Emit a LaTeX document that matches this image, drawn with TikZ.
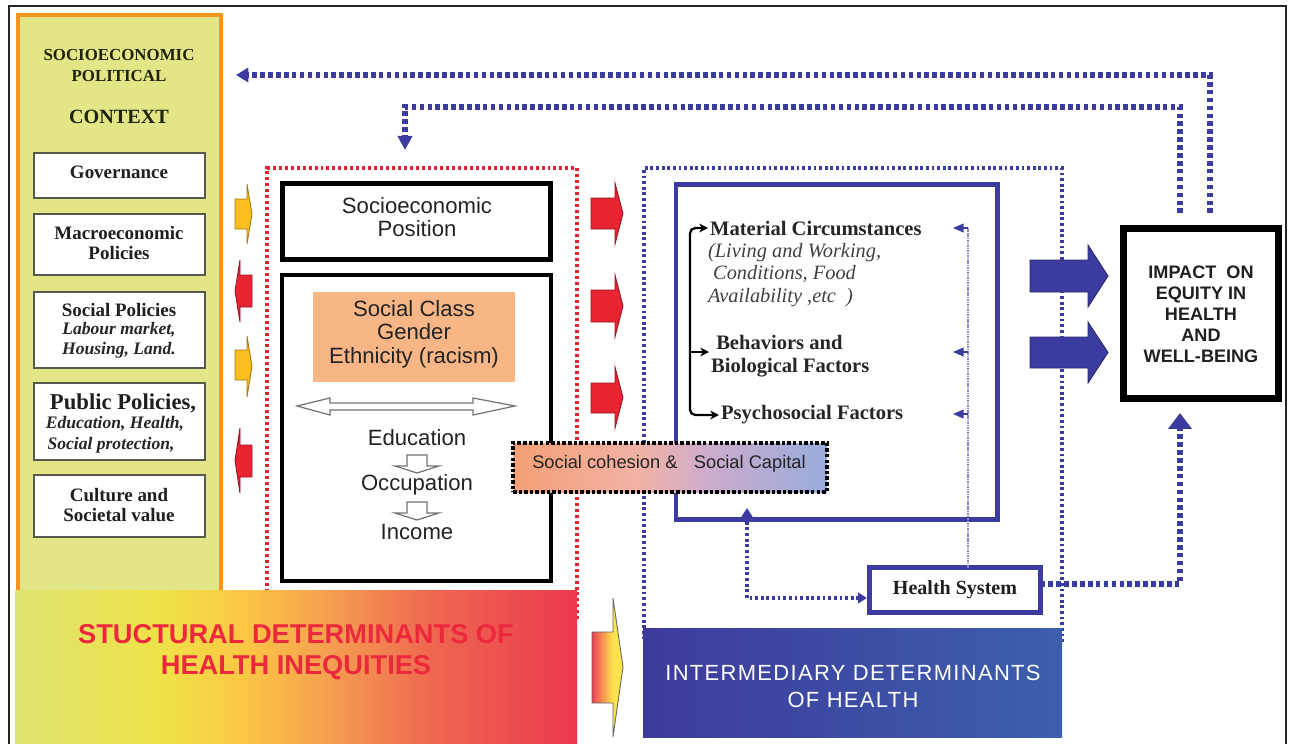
\documentclass[tikz,border=0pt]{standalone}
\usepackage{fontspec}
\setmainfont{Liberation Sans}
\newfontfamily\tnr{Liberation Serif}
\usetikzlibrary{arrows.meta,fit,calc}
\definecolor{panelfill}{RGB}{226,230,135}
\definecolor{panelorange}{RGB}{247,148,30}
\definecolor{titlegreen}{RGB}{30,35,10}
\definecolor{boxgray}{RGB}{85,90,75}
\definecolor{sred}{RGB}{232,35,50}
\definecolor{tred}{RGB}{236,40,60}
\definecolor{syellow}{RGB}{250,190,30}
\definecolor{iblue}{RGB}{60,60,160}
\definecolor{ibluel}{RGB}{62,58,156}
\definecolor{ibluer}{RGB}{60,95,172}
\definecolor{classorange}{RGB}{248,182,135}
\definecolor{textgray}{RGB}{35,35,35}
\definecolor{ga}{RGB}{222,226,112}
\definecolor{gb}{RGB}{238,226,72}
\definecolor{gc}{RGB}{252,200,68}
\definecolor{gd}{RGB}{245,158,80}
\definecolor{ge}{RGB}{238,104,80}
\definecolor{gf}{RGB}{235,56,78}
\pgfdeclarehorizontalshading{structgrad}{100bp}{color(0bp)=(ga); color(25bp)=(ga); color(38bp)=(gb); color(45bp)=(gc); color(53bp)=(gd); color(62bp)=(ge); color(75bp)=(gf); color(100bp)=(gf)}
\definecolor{ca}{RGB}{244,160,118}
\definecolor{cb}{RGB}{242,178,165}
\definecolor{cc}{RGB}{205,172,205}
\definecolor{cd}{RGB}{152,172,220}
\pgfdeclarehorizontalshading{cohgrad}{100bp}{color(0bp)=(ca); color(25bp)=(ca); color(45bp)=(cb); color(56bp)=(cc); color(75bp)=(cd); color(100bp)=(cd)}
\definecolor{aa}{RGB}{238,64,88}
\definecolor{ab}{RGB}{252,226,76}
\pgfdeclarehorizontalshading{arrgrad}{100bp}{color(0bp)=(aa); color(25bp)=(aa); color(58bp)=(ab); color(100bp)=(ab)}
\newcommand\blkarrow[8]{\path[blockarrow, fill=#1, draw=#1!65!black] (#2,#5) -- (#3,#5) -- (#3,#7) -- (#4,{(#7+#8)/2}) -- (#3,#8) -- (#3,#6) -- (#2,#6) -- cycle;}
\newcommand\hollowdown[1]{\path[draw=black!55, fill=white, line width=0.7pt] (407,#1) -- (427,#1) -- (427,{#1+11}) -- (439,{#1+11}) -- (417,{#1+18}) -- (395,{#1+11}) -- (407,{#1+11}) -- cycle;}
\begin{document}
\begin{tikzpicture}[x=0.02cm,y=-0.02cm,
  fitbox/.style={inner sep=0pt, outer sep=0pt},
  ctxbox/.style={fitbox, draw=boxgray, line width=1.1pt, fill=white},
  ctxtxt/.style={inner sep=0pt, align=center, text=black!88, font=\tnr\bfseries\fontsize{10.8}{11.6}\selectfont},
  ctxit/.style={inner sep=0pt, text=black!85, font=\tnr\bfseries\itshape\fontsize{10}{11.3}\selectfont},
  sanstxt/.style={inner sep=0pt, align=center, text=textgray, font=\fontsize{12.6}{13.3}\selectfont},
  sertxt/.style={inner sep=1pt, anchor=west, align=left, text=black!85, font=\tnr\bfseries\fontsize{11.7}{13}\selectfont},
  serit/.style={inner sep=1pt, anchor=west, align=left, text=black!75, font=\tnr\itshape\fontsize{11.6}{13}\selectfont},
  fbline/.style={draw=iblue, line width=3.2pt, dash pattern=on 2.6pt off 1.9pt},
  dotblue/.style={draw=iblue, line width=1.8pt, dash pattern=on 1.6pt off 1.6pt},
  thinblue/.style={draw=iblue!60, line width=0.7pt},
  blockarrow/.style={line width=0.5pt, line join=miter},
]
\useasboundingbox (0,0) rectangle (1296,744);
\clip (0,0) rectangle (1296,744);
\fill[white] (0,0) rectangle (1296,744);
\draw[line width=1.2pt, black!85] (9,6) rectangle (1286,780);

% context panel
\node[fitbox, fit={(18,15) (221,600)}, draw=panelorange, line width=2.3pt, fill=panelfill] (ctx) {};
\node[inner sep=0pt, align=center, text=titlegreen, font=\tnr\bfseries\fontsize{9.6}{11.9}\selectfont] (ctxt1) at (119,65.5) {SOCIOECONOMIC\\POLITICAL};
\node[inner sep=0pt, text=titlegreen, font=\tnr\bfseries\fontsize{11.5}{13}\selectfont] (ctxt2) at (119,117) {CONTEXT};

\node[ctxbox, fit={(34,153) (205,198)}] (gov) {};
\node[ctxtxt] (govt) at (119,172) {Governance};
\node[ctxbox, fit={(34,214) (205,275)}] (macro) {};
\node[ctxtxt] (macrot) at (119,243) {Macroeconomic\\Policies};
\node[ctxbox, fit={(34,292) (205,368)}] (socpol) {};
\node[ctxtxt] (socpolt) at (119,310) {Social Policies};
\node[ctxit] (socpol2) at (119,330) {Labour market,};
\node[ctxit] (socpol3) at (119,350) {Housing, Land.};
\node[ctxbox, fit={(34,383) (205,460)}] (pubpol) {};
\node[ctxtxt, font=\tnr\bfseries\fontsize{12.9}{14}\selectfont] (pubpolt) at (123,403) {Public Policies,};
\node[ctxit] (pubpol2) at (115,424) {Education, Health,};
\node[ctxit] (pubpol3) at (111,445) {Social protection,};
\node[ctxbox, fit={(34,475) (205,537)}] (culture) {};
\node[ctxtxt] (culturet) at (119,505) {Culture and\\Societal value};

% structural dotted box
\node[fitbox, fit={(267,168) (577,620)}, draw=sred, line width=1.8pt, dash pattern=on 1.7pt off 1.7pt] (structbox) {};

% gradient bar
\node[fitbox, fit={(15,590) (577,760)}, shade, shading=structgrad] (structbar) {};
\node[inner sep=0pt, align=center, text=tred, font=\bfseries\fontsize{15.5}{17.6}\selectfont] (structlabel) at (296,652.5) {STUCTURAL DETERMINANTS OF\\HEALTH INEQUITIES};

% socioeconomic position
\node[fitbox, fit={(282.5,183.5) (550.5,259.5)}, draw, line width=3pt, fill=white] (sep) {};
\node[sanstxt] (sept) at (417,217) {Socioeconomic\\Position};
\node[fitbox, fit={(282,275) (551,581)}, draw, line width=2.4pt, fill=white] (spbox) {};
\node[fitbox, fit={(313,292) (515,382)}, fill=classorange] (classbox) {};
\node[sanstxt, font=\fontsize{12.6}{13.4}\selectfont] (classt) at (414,334) {Social Class\\Gender\\Ethnicity (racism)};
\path[draw=black!55, fill=white, line width=0.7pt] (297,406) -- (330,398) -- (330,403) -- (473,403) -- (473,398) -- (515,406) -- (473,415) -- (473,410) -- (330,410) -- (330,415) -- cycle;
\node[sanstxt] (edu) at (417,438) {Education};
\hollowdown{455}
\node[sanstxt] (occ) at (417,485) {Occupation};
\hollowdown{502}
\node[sanstxt] (inc) at (417,532) {Income};

% small arrows between context and structural box
\blkarrow{syellow}{235}{247}{252}{199}{229}{184}{244}
\blkarrow{sred}{252}{240}{235}{275}{307}{260}{322}
\blkarrow{syellow}{235}{247}{252}{350}{380}{336}{397}
\blkarrow{sred}{252}{240}{235}{445}{477}{428}{493}
% red arrows to intermediary
\blkarrow{sred}{591}{615}{623}{198}{229}{183}{244}
\blkarrow{sred}{591}{615}{623}{290}{322}{275}{337}
\blkarrow{sred}{591}{615}{623}{383}{413}{367}{428}

% big blue arrows
\blkarrow{iblue}{1030}{1088}{1108}{260}{292}{245}{307}
\blkarrow{iblue}{1030}{1088}{1108}{337}{368}{322}{383}

% intermediary dotted box
\node[fitbox, fit={(644,168) (1062,640)}, draw=iblue, line width=1.8pt, dash pattern=on 1.6pt off 1.6pt] (intbox) {};
\node[fitbox, fit={(676,184.5) (997.5,519.5)}, draw=iblue, line width=2.8pt] (matbox) {};

\node[sertxt] (mat) at (708,228) {Material Circumstances};
\node[serit] (matsub) at (706,275) {(\textit{Living and Working,}\\\ \textit{Conditions, Food}\\\textit{Availability ,etc\ \ )}};
\node[sertxt] (bio) at (709,356) {\ Behaviors and\\Biological Factors};
\node[sertxt] (psy) at (719,415) {Psychosocial Factors};
\draw[line width=1.3pt, rounded corners=3pt, {Stealth[length=5pt,width=5pt]}-{Stealth[length=5pt,width=5pt]}] (mat.west) -| (690,415) -- (psy.west);
\draw[line width=1.3pt, -{Stealth[length=5pt,width=5pt]}] (690,352) -- (bio.west |- 0,352);

% health system
\node[fitbox, fit={(869.5,567.5) (1040.5,612.5)}, draw=iblue, line width=2.8pt, fill=white] (hs) {};
\node[inner sep=0pt, text=black!88, font=\tnr\bfseries\fontsize{11.4}{13}\selectfont] (hst) at (955,590) {Health System};
\draw[thinblue, dash pattern=on 0.9pt off 0.5pt] (968,228) -- (hs.north -| 968,0);
\coordinate (hsa) at (968,228);
\coordinate (hsb) at (968,352);
\coordinate (hsc) at (968,414);
\draw[thinblue, draw=iblue, -{Triangle[length=6pt,width=5pt]}] (hsa) -- (953,228);
\draw[thinblue, draw=iblue, -{Triangle[length=6pt,width=5pt]}] (hsb) -- (953,352);
\draw[thinblue, draw=iblue, -{Triangle[length=6pt,width=5pt]}] (hsc) -- (953,414);
\coordinate (hsup) at (747,508);
\draw[dotblue, {Triangle[length=5pt,width=6pt]}-{Triangle[length=5pt,width=6pt]}, shorten >=1.5pt] (hsup) |- (hs.west |- 0,598);

% social cohesion
\node[fitbox, fit={(513,443) (827,492)}, shade, shading=cohgrad, draw=black, line width=2.3pt, dash pattern=on 2pt off 1.2pt] (cohesion) {};
\node[inner sep=0pt, text=textgray, font=\fontsize{10.4}{12}\selectfont] (cohesiont) at (669,464) {Social cohesion \&\hspace{0.9em}Social Capital};

% intermediary label box
\node[fitbox, fit={(643,628) (1062,737)}, left color=ibluel, right color=ibluer] (intlabel) {};
\node[inner sep=0pt, align=center, text=white, font=\fontsize{12.5}{15.3}\selectfont\addfontfeature{LetterSpace=6}] (intlabelt) at (853,686.5) {INTERMEDIARY DETERMINANTS\\OF HEALTH};
\path[blockarrow, shade, shading=arrgrad, draw=black!60] (592,632) -- (613,632) -- (613,598) -- (623,667) -- (613,737) -- (613,703) -- (592,703) -- cycle;

% impact
\node[fitbox, fit={(1123.5,228.5) (1278.5,398.5)}, draw, line width=4pt, fill=white] (impact) {};
\node[inner sep=0pt, align=center, text=black!88, font=\bfseries\fontsize{10.3}{12}\selectfont] (impactt) at (1201,314.5) {IMPACT\ \ ON\\EQUITY IN\\HEALTH\\AND\\WELL-BEING};

% feedback lines
\draw[fbline, -{Triangle[length=7pt,width=8pt]}, shorten <=0.31cm, shorten >=0.3cm] ([xshift=0.18cm]impact.north) |- (ctx.east |- 0,75);
\draw[fbline, -{Triangle[length=8pt,width=8pt]}, shorten <=0.31cm, shorten >=0.36cm] ([xshift=-0.42cm]impact.north) |- (405,107) -- (structbox.north -| 405,0);
\draw[fbline, -{Triangle[length=9pt,width=13pt]}, shorten >=0.29cm] (hs.east |- 0,584) -| ([xshift=-0.42cm]impact.south);
\end{tikzpicture}
\end{document}
